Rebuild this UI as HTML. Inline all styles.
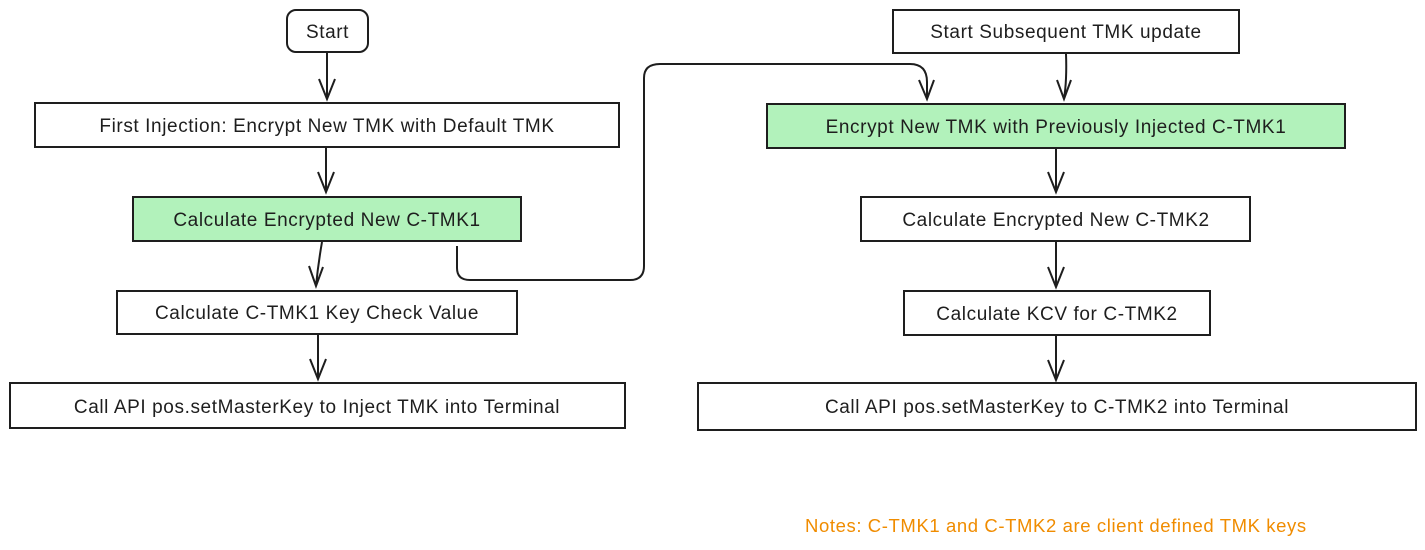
<!DOCTYPE html>
<html><head><meta charset="utf-8"><style>
html,body{margin:0;padding:0;background:#fff;}
svg{display:block}
text{font-family:"Liberation Sans",sans-serif;font-size:19px;letter-spacing:0.6px;fill:#1e1e1e;}
</style></head><body>
<svg width="1425" height="550" viewBox="0 0 1425 550" xmlns="http://www.w3.org/2000/svg">
<g stroke="#1e1e1e" stroke-width="2" fill="none">
<rect x="287" y="10" width="81" height="42" rx="9" fill="#fff"/>
<rect x="35" y="103" width="584" height="44" fill="#fff"/>
<rect x="133" y="197" width="388" height="44" fill="#b2f2bb"/>
<rect x="117" y="291" width="400" height="43" fill="#fff"/>
<rect x="10" y="383" width="615" height="45" fill="#fff"/>
<rect x="893" y="10" width="346" height="43" fill="#fff"/>
<rect x="767" y="104" width="578" height="44" fill="#b2f2bb"/>
<rect x="861" y="197" width="389" height="44" fill="#fff"/>
<rect x="904" y="291" width="306" height="44" fill="#fff"/>
<rect x="698" y="383" width="718" height="47" fill="#fff"/>
<path d="M327 53 V99 M319 79 L327 99 L335 79"/>
<path d="M326 148 V192 M318 172 L326 192 L334 172"/>
<path d="M322 242 Q318 265 316 286 M309 266 L316 286 L323 267"/>
<path d="M318 335 V379 M310 359 L318 379 L326 359"/>
<path d="M1066 54 Q1067 80 1064 99 M1057 80 L1064 99 L1071 80"/>
<path d="M1056 149 V192 M1048 172 L1056 192 L1064 172"/>
<path d="M1056 242 V287 M1048 267 L1056 287 L1064 267"/>
<path d="M1056 336 V380 M1048 360 L1056 380 L1064 360"/>
<path d="M457 246 V268 Q457 280 470 280 H630 Q644 280 644 266 V78 Q644 64 660 64 H910 Q927 64 927 82 V99 M919 80 L927 99 L934 80"/>
</g>
<g text-anchor="middle">
<text x="327.5" y="38">Start</text>
<text x="327" y="132">First Injection: Encrypt New TMK with Default TMK</text>
<text x="327" y="226">Calculate Encrypted New C-TMK1</text>
<text x="317" y="319">Calculate C-TMK1 Key Check Value</text>
<text x="317" y="413">Call API pos.setMasterKey to Inject TMK into Terminal</text>
<text x="1066" y="38">Start Subsequent TMK update</text>
<text x="1056" y="133">Encrypt New TMK with Previously Injected C-TMK1</text>
<text x="1056" y="226">Calculate Encrypted New C-TMK2</text>
<text x="1057" y="320">Calculate KCV for C-TMK2</text>
<text x="1057" y="413">Call API pos.setMasterKey to C-TMK2 into Terminal</text>
</g>
<text x="805" y="532" style="fill:#f08c00;font-size:18.5px">Notes: C-TMK1 and C-TMK2 are client defined TMK keys</text>
</svg>
</body></html>
